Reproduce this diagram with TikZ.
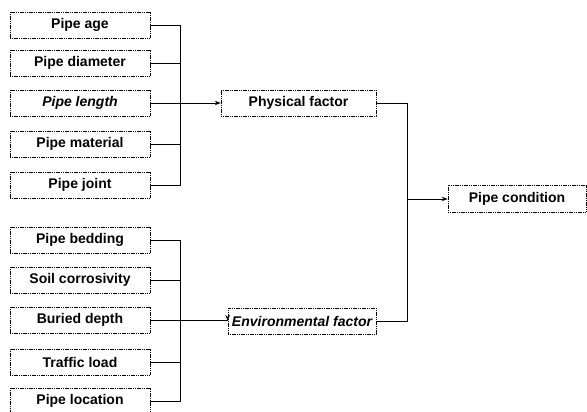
\documentclass[tikz,border=0pt]{standalone}
\usepackage{fontspec}
\setmainfont{Liberation Sans}
\usetikzlibrary{arrows.meta}
\begin{document}
\begin{tikzpicture}[x=1pt,y=1pt,
  box/.style={draw, line width=0.6pt, dash pattern=on 1.2pt off 0.6pt, minimum height=26pt, inner sep=0pt,
    font=\bfseries\fontsize{14}{16}\selectfont},
  lbox/.style={box, minimum width=140pt},
  conn/.style={line width=0.9pt},
  arr/.style={conn, -{Stealth[length=6pt,width=4.5pt]}}]
\useasboundingbox (0,0) rectangle (587,412);
% left top group
\node[lbox] (age)  at (80,387) {Pipe age};
\node[lbox] (diam) at (80,349) {Pipe diameter};
\node[lbox] (len)  at (80,309) {\itshape Pipe length};
\node[lbox] (mat)  at (80,268) {Pipe material};
\node[lbox] (jnt)  at (80,227) {Pipe joint};
% left bottom group
\node[lbox] (bed)  at (80,172) {Pipe bedding};
\node[lbox] (soil) at (80,132) {Soil corrosivity};
\node[lbox] (dep)  at (80,92)  {Buried depth};
\node[lbox] (traf) at (80,50)  {Traffic load};
\node[lbox] (loc)  at (80,11)  {Pipe location};
% middle
\node[box, minimum width=155pt] (phys) at (298.5,309) {Physical factor};
\node[box, minimum width=148pt] (env)  at (302,91) {\itshape Environmental factor};
% right
\node[box, minimum width=138pt, minimum height=27pt] (cond) at (517,213) {Pipe condition};
% buses
\coordinate (tb) at (180,0);
\coordinate (rb) at (407,0);
\draw[conn] (age.east) -- (age.east -| tb) -- (jnt.east -| tb) -- (jnt.east);
\draw[conn] (diam.east) -- (diam.east -| tb);
\draw[conn] (mat.east) -- (mat.east -| tb);
\draw[arr] (len.east) -- (phys.west);
\draw[conn] (bed.east) -- (bed.east -| tb) -- (loc.east -| tb) -- (loc.east);
\draw[conn] (soil.east) -- (soil.east -| tb);
\draw[conn] (traf.east) -- (traf.east -| tb);
\draw[arr] (dep.east) -- (dep.east -| env.west) -- (env.west);
\draw[conn] (phys.east) -- (phys.east -| rb) -- (env.east -| rb) -- (env.east);
\draw[arr] (cond.west -| rb) -- (cond.west);
\end{tikzpicture}
\end{document}
